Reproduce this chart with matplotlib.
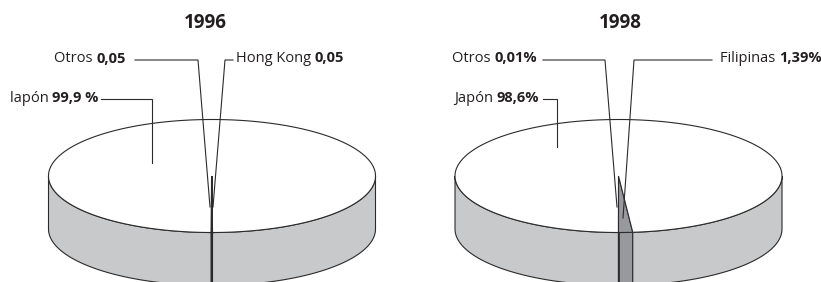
import numpy as np
import matplotlib
matplotlib.use("Agg")
import matplotlib.pyplot as plt
from matplotlib.patches import Polygon

# ---------------- data ----------------
years = ["1996", "1998"]
labels_1996 = ["Hong Kong", "lapón", "Otros"]
values_1996 = [0.05, 99.9, 0.05]
valtext_1996 = ["0,05", "99,9 %", "0,05"]
labels_1998 = ["Filipinas", "Japón", "Otros"]
values_1998 = [1.39, 98.6, 0.01]
valtext_1998 = ["1,39%", "98,6%", "0,01%"]

# ---------------- style / layout ----------------
W, H = 821, 282
FAM = ["Open Sans", "DejaVu Sans"]
TXT = "#231f20"
EDGE = "#2b2b2b"
SIDE_LIGHT = "#c8c9cb"
DARK = "#98999c"
FS = 10.5

fig = plt.figure(figsize=(W / 100, H / 100), dpi=100)
ax = fig.add_axes([0, 0, 1, 1])
ax.set_xlim(0, W)
ax.set_ylim(H, 0)
ax.axis("off")

A, B, D = 163.5, 56.5, 53.0
centers = [(212.0, 176.0), (618.5, 176.0)]

colors = {
    "1996": {"top": ["#2b2b2b", "white", "#2b2b2b"], "side": ["#2b2b2b", SIDE_LIGHT, "#2b2b2b"],
             "lw": [1.4, 0.8, 1.4]},
    "1998": {"top": [DARK, "white", EDGE], "side": [DARK, SIDE_LIGHT, EDGE],
             "lw": [0.8, 0.8, 0.5]},
}


def pt(cx, cy, th, dy=0.0):
    t = np.radians(th)
    return cx + A * np.cos(t), cy - B * np.sin(t) + dy


def draw_pie(cx, cy, values, col):
    tot = float(sum(values))
    start = -90.0
    spans = []
    for v in values:
        span = v / tot * 360.0
        spans.append((start, start + span))
        start += span
    # sides (visible front half)
    for i, (t1, t2) in enumerate(spans):
        for off in (0.0, -360.0, 360.0):
            lo = max(t1 + off, -180.0)
            hi = min(t2 + off, 0.0)
            if hi > lo:
                n = max(2, int((hi - lo) * 2) + 2)
                th = np.linspace(lo, hi, n)
                xs, ys = pt(cx, cy, th)
                xb, yb = pt(cx, cy, th[::-1], D)
                poly = np.column_stack([np.concatenate([xs, xb]), np.concatenate([ys, yb])])
                ax.add_patch(Polygon(poly, closed=True, facecolor=col["side"][i],
                                     edgecolor=EDGE, lw=col["lw"][i], zorder=2))
    # tops
    for i, (t1, t2) in enumerate(spans):
        n = max(2, int((t2 - t1) * 2) + 2)
        th = np.linspace(t1, t2, n)
        xs, ys = pt(cx, cy, th)
        poly = np.column_stack([np.concatenate([[cx], xs]), np.concatenate([[cy], ys])])
        ax.add_patch(Polygon(poly, closed=True, facecolor=col["top"][i],
                             edgecolor=EDGE, lw=col["lw"][i], zorder=3, joinstyle="miter"))
    return spans


renderer = fig.canvas.get_renderer()


def label(x, y, normal, bold, size=FS):
    t1 = ax.text(x, y, normal + " ", fontsize=size, family=FAM, color=TXT,
                 ha="left", va="center", zorder=5)
    bb = t1.get_window_extent(renderer=renderer)
    x2 = ax.transData.inverted().transform((bb.x1, bb.y0))[0]
    ax.text(x2, y, bold, fontsize=size, family=FAM, color=TXT, fontweight="bold",
            ha="left", va="center", zorder=5)


def leader(pts):
    xs = [p[0] for p in pts]
    ys = [p[1] for p in pts]
    ax.plot(xs, ys, color=EDGE, lw=0.8, zorder=4, solid_joinstyle="miter")


# ---- 1996 ----
cx, cy = centers[0]
draw_pie(cx, cy, values_1996, colors["1996"])
ax.text(cx - 7, 23, years[0], fontsize=13.5, family=FAM, fontweight="bold",
        color=TXT, ha="center", va="center")
label(54, 59, "Otros", valtext_1996[2])
leader([(135, 60), (198, 60), (cx - 2, 207)])
label(236, 58, labels_1996[0], valtext_1996[0])
leader([(233, 60), (225, 60), (cx + 1, 207)])
label(10, 98, labels_1996[1], valtext_1996[1])
leader([(101, 99), (152, 99), (152, 163)])

# ---- 1998 ----
cx, cy = centers[1]
draw_pie(cx, cy, values_1998, colors["1998"])
ax.text(cx + 1.5, 23, years[1], fontsize=13.5, family=FAM, fontweight="bold",
        color=TXT, ha="center", va="center")
label(452, 58, "Otros", valtext_1998[2])
leader([(543, 60), (605, 60), (cx - 1.5, 207)])
label(720, 58, labels_1998[0], valtext_1998[0])
leader([(712, 60), (634, 60), (cx + 4.5, 218)])
label(454, 98, labels_1998[1], valtext_1998[1])
leader([(543, 99), (557, 99), (557, 147)])

fig.savefig("out.png", dpi=100, facecolor="white")
